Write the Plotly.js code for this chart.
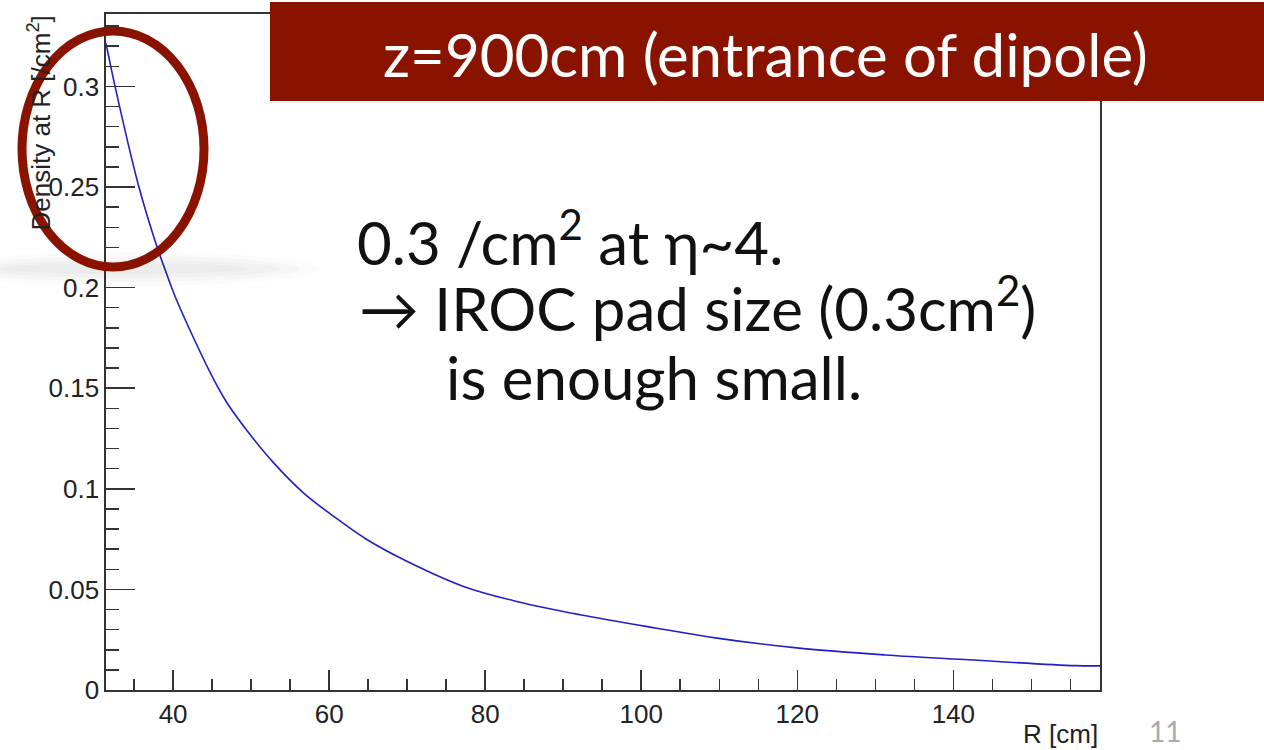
<!DOCTYPE html>
<html>
<head>
<meta charset="utf-8">
<script src="https://cdn.plot.ly/plotly-3.0.1.min.js"></script>
<style>html,body{margin:0;padding:0;background:#fff;}#chart{width:1264px;height:750px;}</style>
</head>
<body>
<div id="chart"></div>
<script>
// Data
const radius = [31.4, 32.56, 35.55, 37.9, 38.97, 40.26, 42.6, 44.74, 46.88, 49.66, 52.86, 56.7, 60.55, 64.83, 69.96, 77.22, 84.06, 92.18, 102.0, 109.7, 120.2, 131.3, 142.0, 155.6, 158.8];
const density = [0.3215, 0.300, 0.251, 0.2207, 0.2090, 0.1956, 0.1752, 0.1579, 0.1429, 0.128, 0.113, 0.098, 0.0864, 0.0748, 0.064, 0.0515, 0.044, 0.0374, 0.0307, 0.0258, 0.0208, 0.0174, 0.0150, 0.0121, 0.0120];

const titleText = "z=900cm (entrance of dipole)";
const noteLines = ["0.3 /cm<sup>2</sup> at η~4.", "→ IROC pad size (0.3cm<sup>2</sup>)", "is enough small."];
const xTitle = "R [cm]";
const yTitle = "Density at R [/cm<sup>2</sup>]";
const pageNumber = "11";

const W = 1264, H = 750;
const L = 106, R = 1100, T = 14, B = 690;
const px = x => (x - L) / (R - L);
const py = y => (B - y) / (B - T);

const dark = '#8a1300';
const axisFont = 'Liberation Sans, Arial, Helvetica, sans-serif';
const slideFont = 'Lato, "Open Sans", sans-serif';

const trace = {
  x: radius, y: density, type: 'scatter', mode: 'lines',
  line: {color: '#2020c4', width: 1.6, shape: 'spline', smoothing: 1},
  hoverinfo: 'skip'
};

const axisCommon = {
  showgrid: false, zeroline: false, showline: true, mirror: true,
  linecolor: '#333', linewidth: 1.6,
  ticks: 'inside', tickcolor: '#333', tickwidth: 1.5,
  tickfont: {family: axisFont, size: 26, color: '#222'}
};

const shadow = [];
[[-60, 320, 286, 252, 0.015], [-40, 300, 282, 256, 0.018], [-20, 280, 278, 260, 0.02], [0, 250, 274, 263, 0.022]].forEach(s => {
  shadow.push({type: 'circle', xref: 'paper', yref: 'paper', x0: px(s[0]), x1: px(s[1]), y0: py(s[2]), y1: py(s[3]),
    fillcolor: 'rgba(0,0,0,' + s[4] + ')', line: {width: 0}, layer: 'above'});
});

const layout = {
  width: W, height: H,
  margin: {l: L, r: W - R, t: T, b: H - B, pad: 0},
  paper_bgcolor: '#fff', plot_bgcolor: '#fff',
  showlegend: false,
  xaxis: Object.assign({}, axisCommon, {
    range: [31.4, 158.8], tick0: 0, dtick: 20, ticklen: 20,
    minor: {tick0: 0, dtick: 5, ticklen: 11, ticks: 'inside', tickcolor: '#333', tickwidth: 1.5}
  }),
  yaxis: Object.assign({}, axisCommon, {
    range: [0, 0.336], tick0: 0, dtick: 0.05, ticklen: 29,
    minor: {tick0: 0, dtick: 0.01, ticklen: 13, ticks: 'inside', tickcolor: '#333', tickwidth: 1.5}
  }),
  shapes: shadow.concat([
    {type: 'rect', xref: 'paper', yref: 'paper', x0: px(270), x1: px(1270), y0: py(101), y1: py(2),
     fillcolor: dark, line: {width: 0}, layer: 'above'},
    {type: 'circle', xref: 'paper', yref: 'paper', x0: px(22), x1: px(204), y0: py(267), y1: py(31),
     line: {color: dark, width: 9}, fillcolor: 'rgba(0,0,0,0)', layer: 'above'}
  ]),
  annotations: [
    {text: titleText, xref: 'paper', yref: 'paper', x: px(765), y: py(54), xanchor: 'center', yanchor: 'middle',
     showarrow: false, font: {family: slideFont, size: 60, color: '#fff'}},
    {text: noteLines[0], xref: 'paper', yref: 'paper', x: px(355), y: py(238), xanchor: 'left', yanchor: 'middle',
     showarrow: false, font: {family: slideFont, size: 60, color: '#111'}},
    {text: noteLines[1], xref: 'paper', yref: 'paper', x: px(357), y: py(304), xanchor: 'left', yanchor: 'middle',
     showarrow: false, font: {family: slideFont, size: 60, color: '#111'}},
    {text: noteLines[2], xref: 'paper', yref: 'paper', x: px(444), y: py(377), xanchor: 'left', yanchor: 'middle',
     showarrow: false, font: {family: slideFont, size: 60, color: '#111'}},
    {text: xTitle, xref: 'paper', yref: 'paper', x: 1, y: py(734), xanchor: 'right', yanchor: 'middle',
     showarrow: false, font: {family: axisFont, size: 26, color: '#222'}},
    {text: yTitle, xref: 'paper', yref: 'paper', x: px(40), y: 1.0, xanchor: 'center', yanchor: 'top', textangle: -90,
     showarrow: false, font: {family: axisFont, size: 26, color: '#222'}},
    {text: pageNumber, xref: 'paper', yref: 'paper', x: px(1165), y: py(731), xanchor: 'center', yanchor: 'middle',
     showarrow: false, font: {family: slideFont, size: 28, color: '#aaa'}}
  ]
};

Plotly.newPlot('chart', [trace], layout, {staticPlot: true, displayModeBar: false});
</script>
</body>
</html>
